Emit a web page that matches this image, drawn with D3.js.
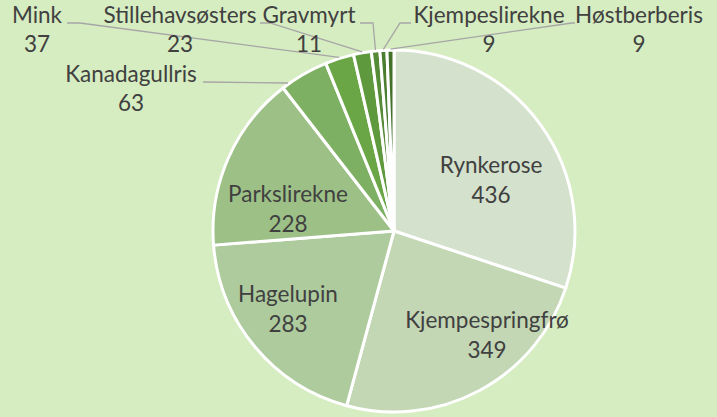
<!DOCTYPE html>
<html>
<head>
<meta charset="utf-8">
<script src="https://cdn.jsdelivr.net/npm/d3@7"></script>
<style>
  html, body { margin: 0; padding: 0; background: #d6ecc1; }
  svg { display: block; }
  text { font-family: Lato, "Open Sans", "Noto Sans", sans-serif; fill: #404040; font-size: 22.5px; }
</style>
</head>
<body>
<svg id="chart" width="717" height="417"></svg>
<script>
// Fremmede arter – antall registreringer
const categories = ["Rynkerose", "Kjempespringfrø", "Hagelupin", "Parkslirekne", "Kanadagullris",
  "Mink", "Stillehavsøsters", "Gravmyrt", "Kjempeslirekne", "Høstberberis"];
const values = [436, 349, 283, 228, 63, 37, 23, 11, 9, 9];
const colors = ["#d4e1cc", "#c3d7b5", "#aecb9d", "#9dc087", "#7eb063",
  "#6aa646", "#5f993d", "#558b36", "#4b7e30", "#43712a"];

// Label layout: inside labels are offsets from the pie centre;
// outside labels sit at a fixed spot with a leader line to the slice rim.
const insideLayout = {
  "Rynkerose":       { dx: 97,   dy: -58 },
  "Kjempespringfrø": { dx: 93,   dy: 97 },
  "Hagelupin":       { dx: -106, dy: 71 },
  "Parkslirekne":    { dx: -106, dy: -29 }
};
const outsideLayout = {
  "Kanadagullris":    { x: 131, y: 82, lineX: 203, elbow: 203, t: 0.14 },
  "Mink":             { x: 37,  y: 23, lineX: 67,  elbow: 80,  t: 0.5 },
  "Stillehavsøsters": { x: 180, y: 23, lineX: 260, elbow: 270, t: 0.5 },
  "Gravmyrt":         { x: 309, y: 23, lineX: 360, elbow: 373, t: 0.5 },
  "Kjempeslirekne":   { x: 489, y: 23, lineX: 411, elbow: 400, t: 0.5 },
  "Høstberberis":     { x: 639, y: 23, lineX: 575, elbow: 572, t: 0.5 }
};

const svg = d3.select("#chart");
const cx = 394, cy = 231, r = 181;
const g = svg.append("g").attr("transform", `translate(${cx},${cy})`);

const data = categories.map((c, i) => ({ name: c, value: values[i], color: colors[i] }));
const pie = d3.pie().value(d => d.value).sort(null);
const arcs = pie(data);
const arc = d3.arc().innerRadius(0).outerRadius(r);

g.selectAll("path.slice")
  .data(arcs)
  .join("path")
  .attr("class", "slice")
  .attr("d", arc)
  .attr("fill", d => d.data.color)
  .attr("stroke", "#ffffff")
  .attr("stroke-width", 3)
  .attr("stroke-linejoin", "round");

// Inside labels
arcs.filter(d => insideLayout[d.data.name]).forEach(d => {
  const p = insideLayout[d.data.name];
  g.append("text").attr("x", p.dx).attr("y", p.dy).attr("text-anchor", "middle").text(d.data.name);
  g.append("text").attr("x", p.dx).attr("y", p.dy + 30).attr("text-anchor", "middle").text(d.data.value);
});

// Outside labels with leader lines
arcs.filter(d => outsideLayout[d.data.name]).forEach(d => {
  const o = outsideLayout[d.data.name];
  const a = d.startAngle + o.t * (d.endAngle - d.startAngle);
  const px = cx + Math.sin(a) * (r + 1), py = cy - Math.cos(a) * (r + 1);
  svg.append("polyline")
    .attr("points", `${o.lineX},${o.y} ${o.elbow},${o.y} ${px},${py}`)
    .attr("fill", "none")
    .attr("stroke", "#a6a6a6")
    .attr("stroke-width", 1.3);
  svg.append("text").attr("x", o.x).attr("y", o.y).attr("text-anchor", "middle").text(d.data.name);
  svg.append("text").attr("x", o.x).attr("y", o.y + 29).attr("text-anchor", "middle").text(d.data.value);
});
</script>
</body>
</html>
